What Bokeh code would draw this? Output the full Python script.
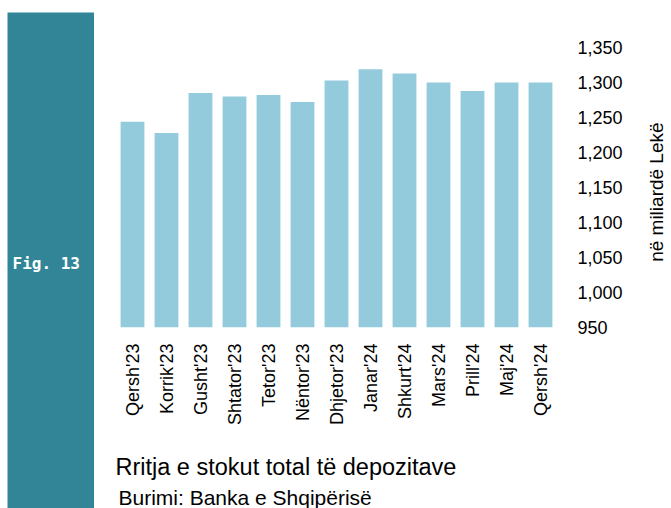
from bokeh.plotting import figure
from bokeh.models import Label, Range1d, FactorRange, Spacer, CustomJSTickFormatter
from bokeh.layouts import row, column
from bokeh.embed import file_html
from bokeh.resources import INLINE
from math import pi

months = ["Qersh'23", "Korrik'23", "Gusht'23", "Shtator'23", "Tetor'23", "Nëntor'23",
          "Dhjetor'23", "Janar'24", "Shkurt'24", "Mars'24", "Prill'24", "Maj'24", "Qersh'24"]
deposits = [1244, 1228, 1285, 1280, 1282, 1272, 1303, 1319, 1313, 1300, 1288, 1300, 1300]
y_ticks = [950, 1000, 1050, 1100, 1150, 1200, 1250, 1300, 1350]
title_text = "Rritja e stokut total të depozitave"
source_text = "Burimi: Banka e Shqipërisë"
fig_text = "Fig. 13"
y_label = "në miliardë  Lekë"

FONT = "Liberation Sans"
TEAL = "#318597"
BAR = "#94cbdc"


def bare(fig):
    fig.outline_line_color = None
    fig.grid.visible = False
    return fig


# left teal panel
left = bare(figure(width=87, height=496, output_backend="svg", toolbar_location=None,
                   x_axis_location=None, y_axis_location=None,
                   x_range=Range1d(0, 1), y_range=Range1d(0, 1),
                   min_border_left=0, min_border_right=0, min_border_top=0, min_border_bottom=0))
left.background_fill_color = TEAL
left.border_fill_color = TEAL
left.add_layout(Label(x=5, y=245, x_units="screen", y_units="screen", text=fig_text,
                      text_color="white", text_font="DejaVu Sans Mono", text_font_style="bold",
                      text_font_size="16px", text_baseline="middle", text_align="left"))

# main chart
p = bare(figure(width=547, height=440, output_backend="svg", toolbar_location=None,
                x_range=FactorRange(*months, range_padding=0),
                y_range=Range1d(950, 1350), y_axis_location="right",
                min_border_left=21, min_border_right=84, min_border_top=47, min_border_bottom=113))
p.vbar(x=months, top=deposits, bottom=950, width=0.7, fill_color=BAR, line_color=None)
p.background_fill_color = "white"
p.border_fill_color = "white"

xa = p.xaxis[0]
xa.axis_line_color = None
xa.major_tick_line_color = None
xa.minor_tick_line_color = None
xa.major_label_orientation = pi / 2
xa.major_label_standoff = 10
xa.major_label_text_font = FONT
xa.major_label_text_font_size = "18px"
xa.major_label_text_color = "black"

ya = p.yaxis[0]
ya.ticker = y_ticks
ya.formatter = CustomJSTickFormatter(code="return tick.toLocaleString('en-US');")
ya.axis_line_color = None
ya.major_tick_line_color = None
ya.minor_tick_line_color = None
ya.major_label_standoff = 14
ya.major_label_text_font = FONT
ya.major_label_text_font_size = "18px"
ya.major_label_text_color = "black"

# caption strip below the chart
cap = bare(figure(width=547, height=68, output_backend="svg", toolbar_location=None,
                  x_axis_location=None, y_axis_location=None,
                  x_range=Range1d(0, 1), y_range=Range1d(0, 1),
                  min_border_left=21, min_border_right=84, min_border_top=0, min_border_bottom=0))
cap.background_fill_color = "white"
cap.border_fill_color = "white"
cap.add_layout(Label(x=0, y=42, x_units="screen", y_units="screen", text=title_text,
                     text_font=FONT, text_font_size="23.5px", text_color="black",
                     text_baseline="alphabetic", text_align="left"))
cap.add_layout(Label(x=3, y=11, x_units="screen", y_units="screen", text=source_text,
                     text_font=FONT, text_font_size="21px", text_color="black",
                     text_baseline="alphabetic", text_align="left"))

# strip holding the value-axis title
ylab = bare(figure(width=30, height=508, output_backend="svg", toolbar_location=None,
                   x_axis_location=None, y_axis_location=None,
                   x_range=Range1d(0, 1), y_range=Range1d(0, 1),
                   min_border_left=0, min_border_right=0, min_border_top=0, min_border_bottom=0))
ylab.background_fill_color = "white"
ylab.border_fill_color = "white"
ylab.add_layout(Label(x=15, y=319, x_units="screen", y_units="screen", text=y_label,
                      angle=pi / 2, text_font=FONT, text_font_size="19px", text_color="black",
                      text_baseline="middle", text_align="center"))

layout = row(Spacer(width=7), column(Spacer(height=12), left), column(p, cap), ylab)
open("out.html", "w").write(file_html(layout, INLINE))
